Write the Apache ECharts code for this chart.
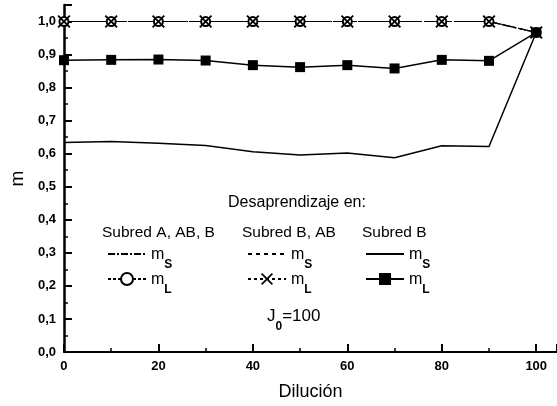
<!DOCTYPE html>
<html>
<head>
<meta charset="utf-8">
<script src="https://cdn.jsdelivr.net/npm/echarts@6/dist/echarts.min.js"></script>
<style>
html,body{margin:0;padding:0;background:#fff;}
#chart{width:557px;height:406px;}
</style>
</head>
<body>
<div id="chart"></div>
<script>
// datos
var dilucion = [0, 10, 20, 30, 40, 50, 60, 70, 80, 90, 100];
var mS_A  = [1, 1, 1, 1, 1, 1, 1, 1, 1, 1, 0.967];   // Subred A, AB, B  m_S
var mL_A  = [1, 1, 1, 1, 1, 1, 1, 1, 1, 1, 0.967];   // Subred A, AB, B  m_L
var mS_BA = [1, 1, 1, 1, 1, 1, 1, 1, 1, 1, 0.967];   // Subred B, AB  m_S
var mL_BA = [1, 1, 1, 1, 1, 1, 1, 1, 1, 1, 0.967];   // Subred B, AB  m_L
var mS_B  = [0.634, 0.637, 0.632, 0.625, 0.606, 0.596, 0.602, 0.588, 0.624, 0.622, 0.967];
var mL_B  = [0.883, 0.884, 0.885, 0.882, 0.868, 0.862, 0.868, 0.858, 0.884, 0.881, 0.967];
var xTicks = [0, 20, 40, 60, 80, 100];
var yTicks = [0, 0.1, 0.2, 0.3, 0.4, 0.5, 0.6, 0.7, 0.8, 0.9, 1.0];

var FONT = 'Liberation Sans, Arial, sans-serif';
var subs = {A_mS:'S', A_mL:'L', BA_mS:'S', BA_mL:'L', B_mS:'S', B_mL:'L'};

function pares(ys){
  return dilucion.map(function(x, i){ return [x, ys[i]]; });
}

var chart = echarts.init(document.getElementById('chart'));

function leyenda(left, names){
  return {
    orient: 'vertical',
    left: left,
    top: 242,
    itemWidth: 38,
    itemHeight: 15,
    itemGap: 1,
    selectedMode: false,
    // la linea sin simbolo no debe mostrar circulo
    data: names.map(function(n, i){
      return i === 0 ? {name: n, itemStyle: {opacity: 0}} : {name: n};
    }),
    formatter: function(n){ return '{m|m}{s|' + subs[n] + '}'; },
    textStyle: {
      fontFamily: FONT,
      rich: {
        m: {fontSize: 16, fontFamily: FONT, color: '#000', verticalAlign: 'top', padding: [10, 0, 0, 0]},
        s: {fontSize: 12, fontFamily: FONT, color: '#000', fontWeight: 'bold', verticalAlign: 'bottom', padding: [22, 0, 0, 0]}
      }
    }
  };
}

var cruz = 'path://M0,1L1,0L5,4L9,0L10,1L6,5L10,9L9,10L5,6L1,10L0,9L4,5Z';

var option = {
  backgroundColor: '#fff',
  animation: false,
  grid: {left: 62, right: 0, top: 5, bottom: 52},
  xAxis: {
    type: 'value',
    min: 0,
    max: 104.4,
    interval: 20,
    name: 'Dilución',
    nameLocation: 'middle',
    nameGap: 31,
    nameTextStyle: {fontFamily: FONT, fontSize: 18, color: '#000'},
    axisLine: {lineStyle: {color: '#000', width: 2}},
    axisTick: {inside: true, length: 8, lineStyle: {color: '#000', width: 2}},
    minorTick: {show: true, splitNumber: 2, length: 4, lineStyle: {color: '#000', width: 1.5}},
    splitLine: {show: false},
    axisLabel: {
      margin: 8, fontFamily: FONT, fontSize: 13, fontWeight: 'bold', color: '#000',
      showMaxLabel: false,
      formatter: function(v){ return xTicks.indexOf(v) >= 0 ? String(v) : ''; }
    }
  },
  yAxis: {
    type: 'value',
    min: 0,
    max: 1.05,
    interval: 0.1,
    name: 'm',
    nameLocation: 'middle',
    nameGap: 32,
    nameTextStyle: {fontFamily: FONT, fontSize: 19, color: '#000'},
    axisLine: {lineStyle: {color: '#000', width: 2.5}},
    axisTick: {inside: true, length: 8, lineStyle: {color: '#000', width: 2}},
    minorTick: {show: true, splitNumber: 2, length: 4, lineStyle: {color: '#000', width: 1.5}},
    splitLine: {show: false},
    axisLabel: {
      margin: 8, fontFamily: FONT, fontSize: 13, fontWeight: 'bold', color: '#000',
      showMaxLabel: false,
      formatter: function(v){
        var r = Math.round(v * 10) / 10;
        if (Math.abs(r - v) > 1e-6 || yTicks.indexOf(r) < 0) return '';
        return r.toFixed(1).replace('.', ',');
      }
    }
  },
  legend: [
    leyenda(102, ['A_mS', 'A_mL']),
    leyenda(242, ['BA_mS', 'BA_mL']),
    leyenda(360, ['B_mS', 'B_mL'])
  ],
  series: [
    {name: 'A_mS', type: 'line', data: pares(mS_A), symbol: 'none',
     itemStyle: {color: '#000'},
     lineStyle: {color: '#000', width: 1.2, type: [7, 2, 2, 2]}},
    {name: 'BA_mS', type: 'line', data: pares(mS_BA), symbol: 'none',
     itemStyle: {color: '#000'},
     lineStyle: {color: '#000', width: 1.2, type: [4, 4]}},
    {name: 'A_mL', type: 'line', data: pares(mL_A), symbol: 'emptyCircle', symbolSize: 9,
     itemStyle: {color: '#000', borderWidth: 1.5},
     lineStyle: {color: '#000', width: 1.2, type: [3, 2]}},
    {name: 'BA_mL', type: 'line', data: pares(mL_BA), symbol: cruz, symbolSize: 13,
     itemStyle: {color: '#000'},
     lineStyle: {color: '#000', width: 1.2, type: [3, 3]}},
    {name: 'B_mS', type: 'line', data: pares(mS_B), symbol: 'none',
     itemStyle: {color: '#000'},
     lineStyle: {color: '#000', width: 1.5}},
    {name: 'B_mL', type: 'line', data: pares(mL_B), symbol: 'rect', symbolSize: 10,
     itemStyle: {color: '#000'},
     lineStyle: {color: '#000', width: 1.5}}
  ],
  graphic: [
    {type: 'text', x: 297, y: 203,
     style: {text: 'Desaprendizaje en:', fontFamily: FONT, fontSize: 16, fill: '#000', align: 'center', verticalAlign: 'middle'}},
    {type: 'text', x: 102, y: 233,
     style: {text: 'Subred A, AB, B', fontFamily: FONT, fontSize: 15.5, fill: '#000', verticalAlign: 'middle'}},
    {type: 'text', x: 242, y: 233,
     style: {text: 'Subred B, AB', fontFamily: FONT, fontSize: 15.5, fill: '#000', verticalAlign: 'middle'}},
    {type: 'text', x: 362, y: 233,
     style: {text: 'Subred B', fontFamily: FONT, fontSize: 15.5, fill: '#000', verticalAlign: 'middle'}},
    {type: 'text', x: 267, y: 308,
     style: {text: '{j|J}{o|0}{j|=100}', fill: '#000',
       rich: {
         j: {fontFamily: FONT, fontSize: 17, fill: '#000', verticalAlign: 'top'},
         o: {fontFamily: FONT, fontSize: 12, fontWeight: 'bold', fill: '#000', verticalAlign: 'bottom', padding: [13, 0, 0, 0]}
       }}}
  ]
};

chart.setOption(option);
</script>
</body>
</html>
